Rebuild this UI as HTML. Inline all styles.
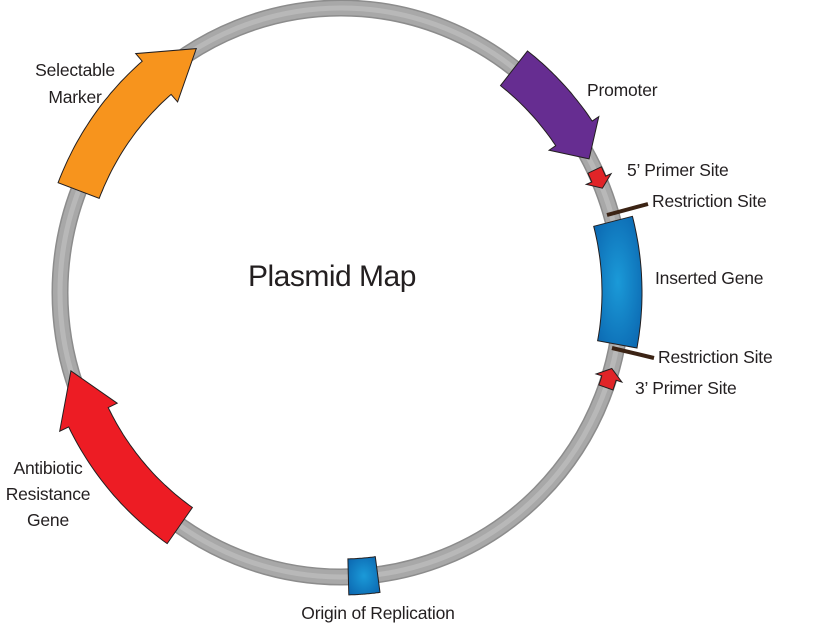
<!DOCTYPE html>
<html><head><meta charset="utf-8"><style>
html,body{margin:0;padding:0;background:#fff;width:837px;height:626px;overflow:hidden}
svg{position:absolute;left:0;top:0}
text{font-family:"Liberation Sans",sans-serif;font-size:17.5px;fill:#231f20;letter-spacing:-0.2px}
</style></head><body>
<svg id="s" width="837" height="626" viewBox="0 0 837 626">
<defs>
<radialGradient id="blue" cx="0.5" cy="0.5" r="0.7"><stop offset="0" stop-color="#1b9ad8"/><stop offset="1" stop-color="#0a63ad"/></radialGradient>
</defs>
<ellipse cx="341" cy="292.5" rx="281" ry="284.5" fill="none" stroke="#8c8c8c" stroke-width="17"/>
<ellipse cx="341" cy="292.5" rx="281" ry="284.5" fill="none" stroke="#a8a8a8" stroke-width="14"/>
<ellipse cx="341" cy="292.5" rx="281" ry="284.5" fill="none" stroke="#b8b8b8" stroke-width="5"/>
<g id="g"></g>
<line x1="607" y1="215" x2="648" y2="204" stroke="#3b2314" stroke-width="4"/>
<line x1="612" y1="348" x2="654" y2="358" stroke="#3b2314" stroke-width="4"/>
<text x="248" y="286" style="font-size:30px;letter-spacing:-0.5px">Plasmid Map</text>
<text x="75" y="76" text-anchor="middle">Selectable</text>
<text x="75" y="103" text-anchor="middle">Marker</text>
<text x="587" y="96">Promoter</text>
<text x="627" y="176">5’ Primer Site</text>
<text x="652" y="207">Restriction Site</text>
<text x="655" y="284">Inserted Gene</text>
<text x="658" y="363">Restriction Site</text>
<text x="635" y="394">3’ Primer Site</text>
<text x="48" y="474" text-anchor="middle">Antibiotic</text>
<text x="48" y="500" text-anchor="middle">Resistance</text>
<text x="48" y="526" text-anchor="middle">Gene</text>
<text x="378" y="619" text-anchor="middle">Origin of Replication</text>
</svg>
<script>
var cx=341,cy=292.5,rx=281,ry=284.5,D=Math.PI/180;
function P(t,o){return [(cx+(rx+o)*Math.sin(t*D)).toFixed(1),(cy-(ry+o)*Math.cos(t*D)).toFixed(1)].join(',');}
function arc(a,b,o){var n=30,r=[];for(var i=0;i<=n;i++)r.push(P(a+(b-a)*i/n,o));return r;}
function arrow(t1,th,tt,w,e,fill){
 var h=w/2,pts=[];
 pts=pts.concat(arc(t1,th,h));pts.push(P(th,h+e));pts.push(P(tt,0));pts.push(P(th,-h-e));
 pts=pts.concat(arc(th,t1,-h));
 add('<polygon points="'+pts.join(' ')+'" fill="'+fill+'" stroke="#231f20" stroke-width="1"/>');
}
function band(a,b,w,fill){var h=w/2;var pts=arc(a,b,h).concat(arc(b,a,-h));
 add('<polygon points="'+pts.join(' ')+'" fill="'+fill+'" stroke="#231f20" stroke-width="1"/>');}
var html='';function add(s){html+=s;}
arrow(38,56,62,44,8,'#662d91');
arrow(291,319,329,44,10,'#f7941d');
arrow(215,244,254,44,10,'#ed1c24');
arrow(64.5,66.5,68.5,15,6,'#e02428');
arrow(109.5,107.5,105.5,15,6,'#e02428');
band(75.5,100.5,40,'url(#blue)');
band(172.5,178.5,36,'url(#blue)');
document.getElementById('g').innerHTML=html;
</script>
</body></html>
